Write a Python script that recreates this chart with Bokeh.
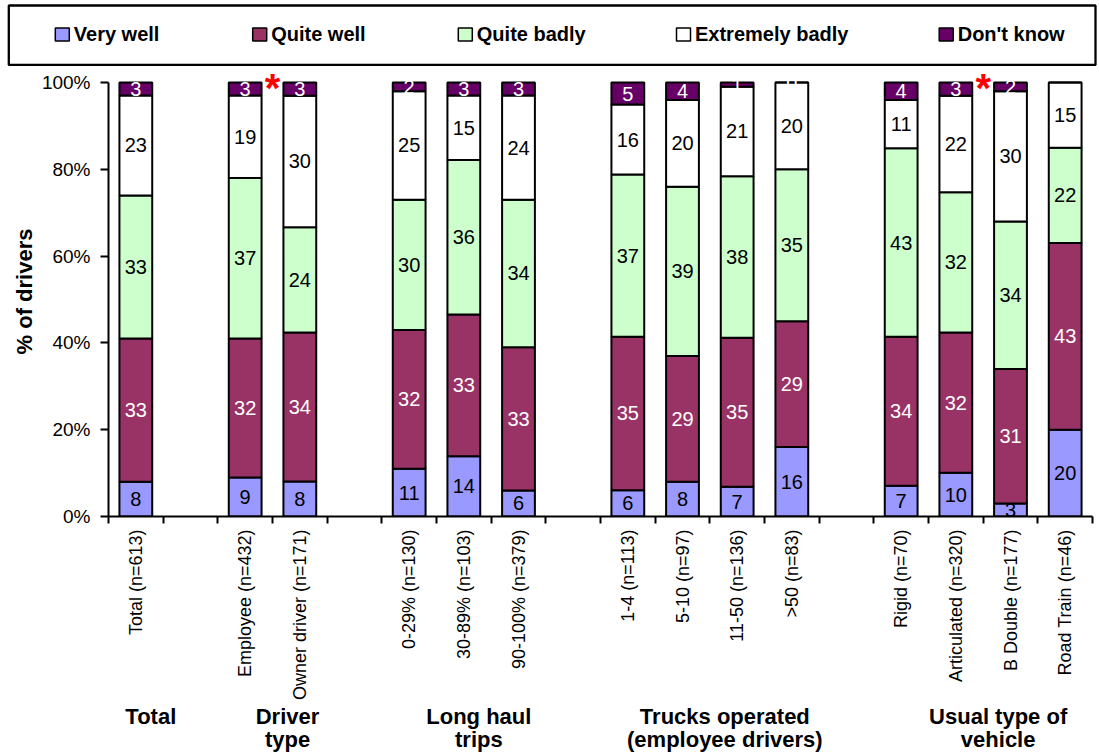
import math
import numpy as np
from bokeh.plotting import figure
from bokeh.layouts import column
from bokeh.models import Range1d, FixedTicker, ColumnDataSource
from bokeh.core.properties import value
from bokeh.embed import file_html
from bokeh.resources import INLINE

# Answer categories, stacked from the bottom of each column to the top
responses = ["Very well", "Quite well", "Quite badly", "Extremely badly", "Don't know"]

categories = [
    "Total (n=613)",
    "Employee (n=432)", "Owner driver (n=171)",
    "0-29% (n=130)", "30-89% (n=103)", "90-100% (n=379)",
    "1-4 (n=113)", "5-10 (n=97)", "11-50 (n=136)", ">50 (n=83)",
    "Rigid (n=70)", "Articulated (n=320)", "B Double (n=177)", "Road Train (n=46)",
]
# position of each column on the axis; the skipped slots separate the groups
slots = [0, 2, 3, 5, 6, 7, 9, 10, 11, 12, 14, 15, 16, 17]

very_well = [8, 9, 8, 11, 14, 6, 6, 8, 7, 16, 7, 10, 3, 20]
quite_well = [33, 32, 34, 32, 33, 33, 35, 29, 35, 29, 34, 32, 31, 43]
quite_badly = [33, 37, 24, 30, 36, 34, 37, 39, 38, 35, 43, 32, 34, 22]
extremely_badly = [23, 19, 30, 25, 15, 24, 16, 20, 21, 20, 11, 22, 30, 15]
dont_know = [3, 3, 3, 2, 3, 3, 5, 4, 1, 0, 4, 3, 2, None]

groups = [["Total"], ["Driver", "type"], ["Long haul", "trips"],
          ["Trucks operated", "(employee drivers)"], ["Usual type of", "vehicle"]]
group_slots = [(0, 0), (2, 3), (5, 7), (9, 12), (14, 17)]

# significant differences flagged between these pairs of columns
significant_pairs = [(1, 2), (11, 12)]

y_ticks = [0, 20, 40, 60, 80, 100]

# ---- styling ----
fill_colors = ["#9999FF", "#993366", "#CCFFCC", "#FFFFFF", "#660066"]
text_colors = ["black", "white", "black", "black", "white"]
NARROW = "Liberation Sans Narrow, Arial Narrow, Liberation Sans, Arial, sans-serif"
BOLD = "Liberation Sans, Arial, sans-serif"

series = [very_well, quite_well, quite_badly, extremely_badly, dont_know]
raw = np.array([[np.nan if v is None else v for v in s] for s in series], dtype=float)
vals = np.nan_to_num(raw)
# 100% stacked: each column is scaled to its own total
share = vals / vals.sum(axis=0) * 100.0
tops = np.cumsum(share, axis=0)
bottoms = tops - share
xs = np.array(slots, dtype=float)


def bare(fig):
    fig.axis.visible = False
    fig.grid.visible = False
    fig.outline_line_color = None
    fig.background_fill_color = "white"
    fig.border_fill_color = "white"


# ---------------- legend strip ----------------
leg = figure(width=1099, height=66, x_range=Range1d(0, 1099), y_range=Range1d(66, 0),
             toolbar_location=None, output_backend="svg", min_border=0)
leg.frame_align = False
bare(leg)

leg.quad(left=8.3, right=1095, top=5, bottom=64.5, fill_color=None,
         line_color="black", line_width=2.3)
swatch_x = [61.8, 259.2, 464.8, 683.0, 945.7]
leg.rect(x=swatch_x, y=34, width=14, height=13, fill_color=fill_colors,
         line_color="black", line_width=1.5)
leg.text(x=[sx + 11.5 for sx in swatch_x], y=33.6, text=responses,
         text_font=value(BOLD), text_font_style="bold", text_font_size="20px",
         text_align="left", text_baseline="middle", text_color="black")

# ---------------- main chart ----------------
p = figure(width=1099, height=639, x_range=Range1d(-0.5, 17.5), y_range=Range1d(0, 103.7),
           toolbar_location=None, output_backend="svg",
           min_border_left=108, min_border_right=7, min_border_top=0, min_border_bottom=189)
p.frame_align = False
p.outline_line_color = None
p.grid.visible = False
p.background_fill_color = "white"
p.border_fill_color = "white"

for k in range(len(series)):
    p.vbar(x=xs, bottom=bottoms[k], top=tops[k], width=0.6,
           fill_color=fill_colors[k], line_color="black", line_width=2)

for k in range(len(series)):
    keep = ~np.isnan(raw[k])
    src = ColumnDataSource(dict(
        x=xs[keep],
        y=((bottoms[k] + tops[k]) / 2)[keep],
        t=[str(int(v)) for v in raw[k][keep]],
    ))
    p.text(x="x", y="y", text="t", source=src, text_font=value(NARROW),
           text_font_size="20px", text_align="center", text_baseline="middle",
           text_color=text_colors[k])

# red asterisks between significantly different columns
star_x = [(slots[a] + slots[b]) / 2 for a, b in significant_pairs]
p.text(x=star_x, y=[100] * len(star_x), text=["*"] * len(star_x),
       text_font=value(BOLD), text_font_style="bold", text_font_size="40px",
       text_align="center", text_baseline="middle", text_color="#FF0000",
       y_offset=5)

# x axis: labels under each column, tick marks on the slot boundaries
xa = p.xaxis[0]
xa.ticker = FixedTicker(ticks=slots, minor_ticks=[k - 0.5 for k in range(19)])
xa.major_label_overrides = {s: c for s, c in zip(slots, categories)}
xa.major_label_orientation = math.pi / 2
xa.major_label_text_font = NARROW
xa.major_label_text_font_size = "18px"
xa.major_label_text_color = "black"
xa.major_label_standoff = 6
xa.major_tick_line_color = None
xa.major_tick_out = 7
xa.major_tick_in = 0
xa.minor_tick_line_color = "black"
xa.minor_tick_line_width = 2
xa.minor_tick_out = 7
xa.minor_tick_in = 0
xa.axis_line_color = "black"
xa.axis_line_width = 2

ya = p.yaxis[0]
ya.ticker = FixedTicker(ticks=y_ticks)
ya.major_label_overrides = {t: f"{t}%" for t in y_ticks}
ya.bounds = (0, 100)
ya.major_label_text_font = NARROW
ya.major_label_text_font_size = "19px"
ya.major_label_text_color = "black"
ya.major_label_standoff = 10
ya.major_tick_line_color = "black"
ya.major_tick_line_width = 2
ya.major_tick_out = 8
ya.major_tick_in = 0
ya.minor_tick_line_color = None
ya.axis_line_color = "black"
ya.axis_line_width = 2
ya.axis_label = "% of drivers"
ya.axis_label_text_font = BOLD
ya.axis_label_text_font_style = "bold"
ya.axis_label_text_font_size = "22px"
ya.axis_label_text_color = "black"
ya.axis_label_standoff = 2

# ---------------- group headings ----------------
g = figure(width=1099, height=49, x_range=p.x_range, y_range=Range1d(49, 0),
           toolbar_location=None, output_backend="svg",
           min_border_left=108, min_border_right=7, min_border_top=0, min_border_bottom=0)
g.frame_align = False
bare(g)

gx, gy, gt = [], [], []
for lines, (a, b) in zip(groups, group_slots):
    for i, line in enumerate(lines):
        gx.append((a + b) / 2)
        gy.append(10.8 + 23.4 * i)
        gt.append(line)
g.text(x=gx, y=gy, text=gt, x_offset=15,
       text_font=value(BOLD), text_font_style="bold", text_font_size="22px",
       text_align="center", text_baseline="middle", text_color="black")

layout = column(leg, p, g, spacing=0)
open("out.html", "w").write(file_html(layout, INLINE))
